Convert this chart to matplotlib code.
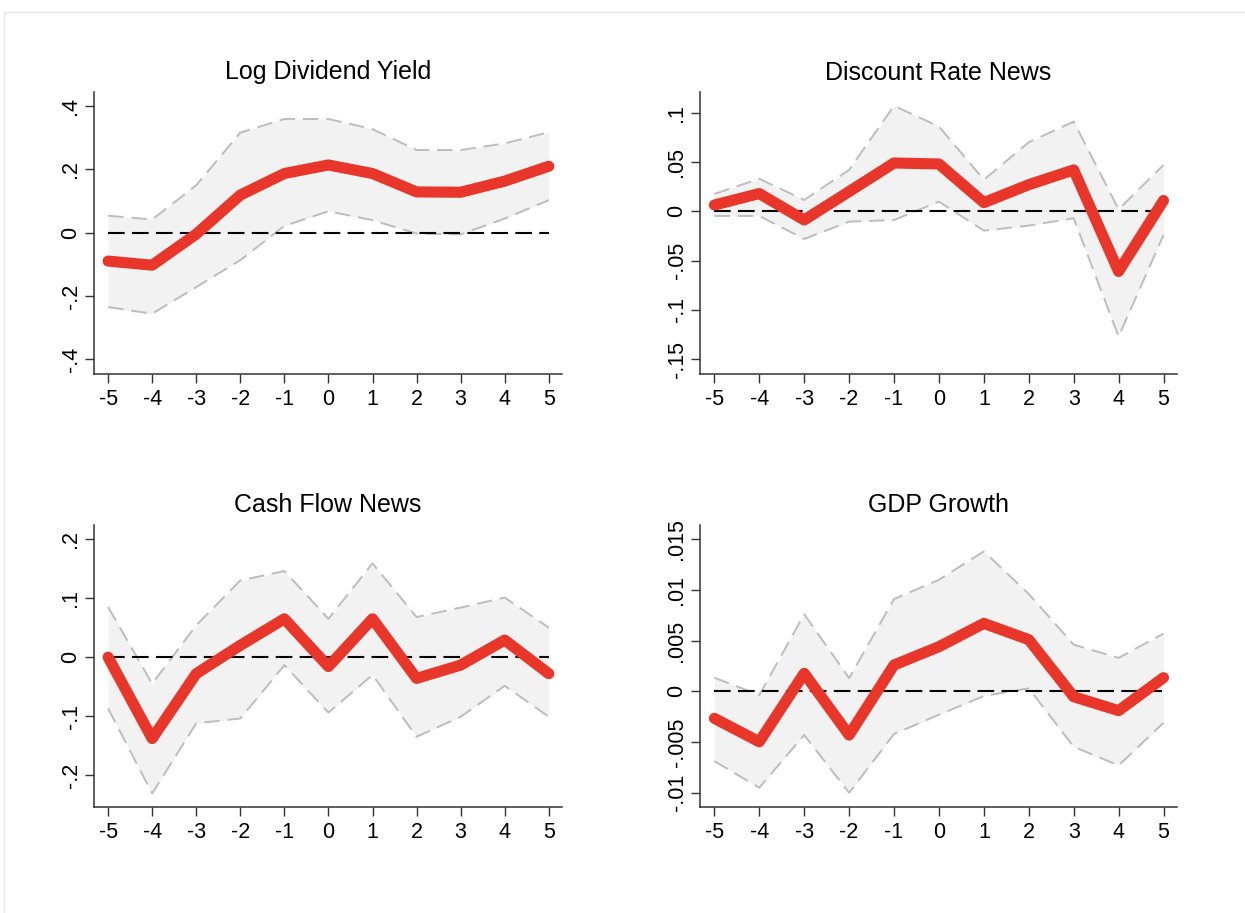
import numpy as np
import matplotlib
matplotlib.use('Agg')
import matplotlib.pyplot as plt
from matplotlib.lines import Line2D

plt.rcParams['font.family'] = ['Liberation Sans', 'DejaVu Sans']

horizon = [-5, -4, -3, -2, -1, 0, 1, 2, 3, 4, 5]

# Log Dividend Yield
ldy_est = [-0.090, -0.103, -0.005, 0.118, 0.186, 0.213, 0.186, 0.128, 0.127, 0.162, 0.209]
ldy_hi = [0.053, 0.041, 0.149, 0.315, 0.358, 0.358, 0.326, 0.260, 0.260, 0.281, 0.316]
ldy_lo = [-0.235, -0.256, -0.172, -0.087, 0.021, 0.067, 0.039, -0.003, -0.006, 0.044, 0.102]

# Discount Rate News
drn_est = [0.0064, 0.018, -0.0088, 0.020, 0.049, 0.048, 0.0088, 0.027, 0.042, -0.061, 0.011]
drn_hi = [0.0176, 0.033, 0.0115, 0.042, 0.107, 0.086, 0.032, 0.070, 0.091, 0.002, 0.047]
drn_lo = [-0.0047, -0.0047, -0.028, -0.0105, -0.0088, 0.0098, -0.0196, -0.0145, -0.007, -0.127, -0.024]

# Cash Flow News
cfn_est = [0.0, -0.138, -0.028, 0.020, 0.065, -0.016, 0.065, -0.036, -0.0135, 0.029, -0.028]
cfn_hi = [0.085, -0.045, 0.054, 0.130, 0.146, 0.065, 0.159, 0.068, 0.084, 0.101, 0.050]
cfn_lo = [-0.087, -0.231, -0.112, -0.104, -0.0135, -0.094, -0.030, -0.135, -0.101, -0.0485, -0.101]

# GDP Growth
gdp_est = [-0.00266, -0.00497, 0.00178, -0.00431, 0.0026, 0.0044, 0.0067, 0.0051, -0.00053, -0.0019, 0.00135]
gdp_hi = [0.00135, -0.00036, 0.0076, 0.0013, 0.0091, 0.0110, 0.0138, 0.0096, 0.0046, 0.0033, 0.0057]
gdp_lo = [-0.00688, -0.0095, -0.0043, -0.0100, -0.0042, -0.0023, -0.00046, 0.0003, -0.00546, -0.0073, -0.0031]

panels = [
    ("Log Dividend Yield", ldy_est, ldy_hi, ldy_lo,
     [-0.4, -0.2, 0, 0.2, 0.4], ["-.4", "-.2", "0", ".2", ".4"], (-0.446, 0.443),
     [94, 92, 562, 374]),
    ("Discount Rate News", drn_est, drn_hi, drn_lo,
     [-0.15, -0.1, -0.05, 0, 0.05, 0.1], ["-.15", "-.1", "-.05", "0", ".05", ".1"], (-0.165, 0.121),
     [700, 92, 1177, 374]),
    ("Cash Flow News", cfn_est, cfn_hi, cfn_lo,
     [-0.2, -0.1, 0, 0.1, 0.2], ["-.2", "-.1", "0", ".1", ".2"], (-0.254, 0.224),
     [94, 525, 562, 807]),
    ("GDP Growth", gdp_est, gdp_hi, gdp_lo,
     [-0.01, -0.005, 0, 0.005, 0.01, 0.015], ["-.01", "-.005", "0", ".005", ".01", ".015"], (-0.0114, 0.0164),
     [700, 525, 1177, 807]),
]

W, H = 1245, 913
fig = plt.figure(figsize=(W / 100, H / 100), dpi=100)

# faint frame like the original export
fig.add_artist(Line2D([4 / W, 4 / W], [0, 1 - 12 / H], color='#e8e8e8', lw=1))
fig.add_artist(Line2D([4 / W, 1], [1 - 12 / H, 1 - 12 / H], color='#e8e8e8', lw=1))

for title, est, hi, lo, yt, ytl, ylim, box in panels:
    x0, y0, x1, y1 = box
    ax = fig.add_axes([x0 / W, 1 - y1 / H, (x1 - x0) / W, (y1 - y0) / H])
    ax.fill_between(horizon, lo, hi, color='#f2f2f2', lw=0)
    ax.plot(horizon, hi, color='#bdbdbd', lw=1.4, dashes=(8, 4))
    ax.plot(horizon, lo, color='#bdbdbd', lw=1.4, dashes=(8, 4))
    ax.plot([-5, 5], [0, 0], color='black', lw=1.5, dashes=(8, 3.5))
    ax.plot(horizon, est, color='#e8372a', lw=8, solid_capstyle='round', solid_joinstyle='round')
    ax.set_xlim(-5.32, 5.3)
    ax.set_ylim(*ylim)
    ax.set_xticks(horizon)
    ax.set_xticklabels([str(h) for h in horizon])
    ax.set_yticks(yt)
    ax.set_yticklabels(ytl, rotation=90, va='center')
    ax.tick_params(labelsize=15.5, length=6.5, width=1, color='#333333')
    ax.tick_params(axis='y', pad=2.5)
    ax.tick_params(axis='x', pad=4)
    for s in ['top', 'right']:
        ax.spines[s].set_visible(False)
    for s in ['left', 'bottom']:
        ax.spines[s].set_linewidth(1.1)
        ax.spines[s].set_color('#333333')
    ax.set_title(title, fontsize=18, pad=9)

fig.savefig('out.png', dpi=100)
